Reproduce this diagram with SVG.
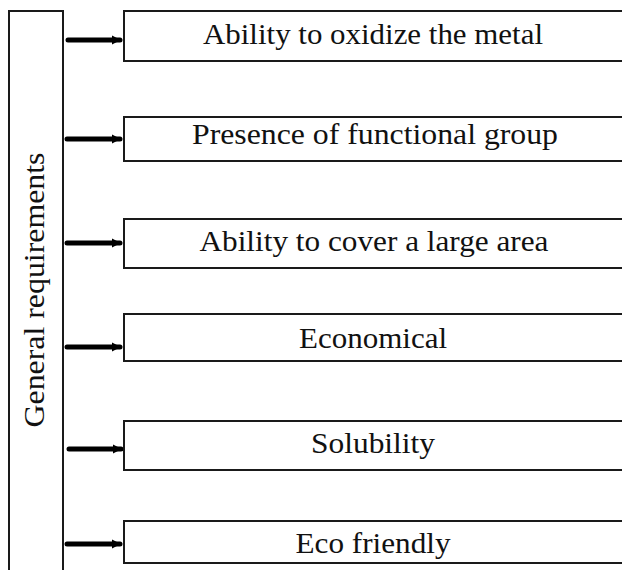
<svg xmlns="http://www.w3.org/2000/svg" width="622" height="570" viewBox="0 0 622 570">
<style>
.box{fill:#fff;stroke:#1a1a1a;stroke-width:2}
.lbl{font-family:"Liberation Serif","DejaVu Serif",serif;font-size:30px;fill:#111;text-anchor:middle}
.arr{stroke:#000;stroke-width:5;stroke-linecap:round;fill:none}
</style>
<defs>
<marker id="ah" viewBox="0 0 10 10" refX="9" refY="5" markerWidth="1.8" markerHeight="2" orient="auto" markerUnits="strokeWidth">
<path d="M0,0 L10,5 L0,10 z" fill="#000"/>
</marker>
</defs>
<rect width="622" height="570" fill="#fff"/>
<g id="general">
<rect class="box" x="9" y="11" width="54" height="570"/>
<text class="lbl" transform="translate(44,290) rotate(-90)" textLength="275" lengthAdjust="spacingAndGlyphs">General requirements</text>
</g>
<g id="connectors">
<line class="arr" x1="68" y1="40" x2="120" y2="40" marker-end="url(#ah)"/>
<line class="arr" x1="67" y1="139" x2="120" y2="139" marker-end="url(#ah)"/>
<line class="arr" x1="67" y1="243" x2="120" y2="243" marker-end="url(#ah)"/>
<line class="arr" x1="67" y1="347" x2="120" y2="347" marker-end="url(#ah)"/>
<line class="arr" x1="69" y1="449" x2="121" y2="449" marker-end="url(#ah)"/>
<line class="arr" x1="67" y1="544" x2="120" y2="544" marker-end="url(#ah)"/>
</g>
<g id="n1">
<rect class="box" x="124" y="11" width="510" height="50"/>
<text class="lbl" x="373" y="44" textLength="340" lengthAdjust="spacingAndGlyphs">Ability to oxidize the metal</text>
</g>
<g id="n2">
<rect class="box" x="124" y="117" width="510" height="44"/>
<text class="lbl" x="375" y="144" textLength="366" lengthAdjust="spacingAndGlyphs">Presence of functional group</text>
</g>
<g id="n3">
<rect class="box" x="124" y="219" width="510" height="49"/>
<text class="lbl" x="374" y="251" textLength="349" lengthAdjust="spacingAndGlyphs">Ability to cover a large area</text>
</g>
<g id="n4">
<rect class="box" x="124" y="314" width="510" height="47"/>
<text class="lbl" x="373" y="348" textLength="148" lengthAdjust="spacingAndGlyphs">Economical</text>
</g>
<g id="n5">
<rect class="box" x="124" y="421" width="510" height="49"/>
<text class="lbl" x="373" y="453" textLength="124" lengthAdjust="spacingAndGlyphs">Solubility</text>
</g>
<g id="n6">
<rect class="box" x="124" y="521" width="510" height="42"/>
<text class="lbl" x="373" y="553" textLength="155" lengthAdjust="spacingAndGlyphs">Eco friendly</text>
</g>
</svg>
